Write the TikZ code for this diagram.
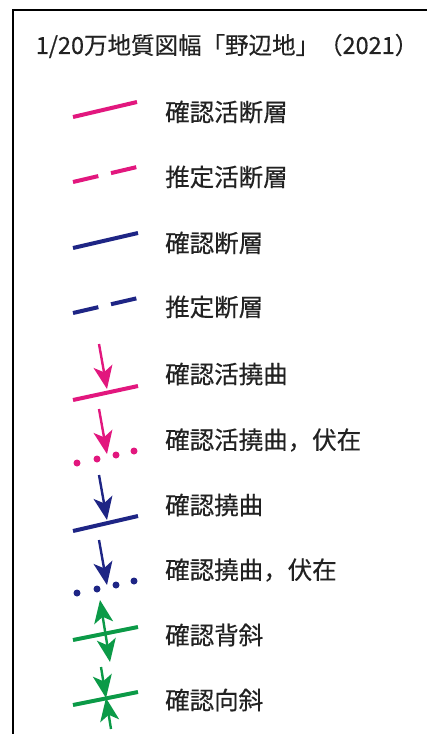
\documentclass[tikz,border=0pt]{standalone}
\usepackage{fontspec}
\setmainfont[FakeBold=0.4]{Noto Sans CJK JP}
\usetikzlibrary{arrows.meta}
\definecolor{actpink}{HTML}{E2177E}
\definecolor{navy}{HTML}{1E2585}
\definecolor{fgreen}{HTML}{0B9A47}
\definecolor{txt}{HTML}{222222}
\begin{document}
\begin{tikzpicture}[x=1pt,y=-1pt,
  lbl/.style={anchor=west,inner sep=0pt,text=txt,font=\fontsize{24.5}{25}\selectfont},
  fline/.style={line width=4pt},
  dashline/.style={line width=4pt,dash pattern=on 26pt off 13pt},
  shaft/.style={line width=2.4pt,-{Stealth[length=23pt,width=19pt,inset=6pt]}},
  dbl/.style={line width=2.4pt,{Stealth[length=23pt,width=19pt,inset=6pt]}-{Stealth[length=23pt,width=19pt,inset=6pt]}},
  dotm/.style={circle,fill,inner sep=0pt,minimum size=7pt}]
\useasboundingbox (0,0) rectangle (427,734);
\fill[white] (0,0) rectangle (427,734);
\coordinate (bl) at (13,734);
\coordinate (tl) at (13,10);
\coordinate (tr) at (427,10);
\draw[line width=1.6pt] (bl) -- (tl) -- (tr);
\node[inner sep=0pt,text=txt,font=\fontsize{23.5}{24}\selectfont] (title) at (227,46) {1/20万地質図幅「野辺地」（2021）};
% row 1
\coordinate (a1) at (73,117); \coordinate (b1) at (137,102);
\draw[actpink,fline] (a1) -- (b1);
\node[lbl] (t1) at (165,112) {確認活断層};
% row 2
\coordinate (a2) at (73,182); \coordinate (b2) at (137,167);
\draw[actpink,dashline] (a2) -- (b2);
\node[lbl] (t2) at (165,177) {推定活断層};
% row 3
\coordinate (a3) at (73,248); \coordinate (b3) at (138,233);
\draw[navy,fline] (a3) -- (b3);
\node[lbl] (t3) at (165,243) {確認断層};
% row 4
\coordinate (a4) at (73,313); \coordinate (b4) at (138,298);
\draw[navy,dashline] (a4) -- (b4);
\node[lbl] (t4) at (165,307) {推定断層};
% row 5
\coordinate (a5) at (73,400); \coordinate (b5) at (138,386);
\coordinate (s5) at (99,344); \coordinate (e5) at (107,389);
\draw[actpink,fline] (a5) -- (b5);
\draw[actpink,shaft] (s5) -- (e5);
\node[lbl] (t5) at (165,374) {確認活撓曲};
% row 6
\coordinate (s6) at (99,409); \coordinate (e6) at (107,454);
\draw[actpink,shaft] (s6) -- (e6);
\node[actpink,dotm] (d61) at (77,463) {};
\node[actpink,dotm] (d62) at (97,459) {};
\node[actpink,dotm] (d63) at (116,455) {};
\node[actpink,dotm] (d64) at (134,451) {};
\node[lbl] (t6) at (165,440) {確認活撓曲，伏在};
% row 7
\coordinate (a7) at (73,531); \coordinate (b7) at (138,516);
\coordinate (s7) at (99,475); \coordinate (e7) at (107,520);
\draw[navy,fline] (a7) -- (b7);
\draw[navy,shaft] (s7) -- (e7);
\node[lbl] (t7) at (165,505) {確認撓曲};
% row 8
\coordinate (s8) at (99,540); \coordinate (e8) at (107,585);
\draw[navy,shaft] (s8) -- (e8);
\node[navy,dotm] (d81) at (77,593) {};
\node[navy,dotm] (d82) at (97,589) {};
\node[navy,dotm] (d83) at (116,585) {};
\node[navy,dotm] (d84) at (134,581) {};
\node[lbl] (t8) at (165,570) {確認撓曲，伏在};
% row 9
\coordinate (a9) at (73,640); \coordinate (b9) at (138,627);
\coordinate (s9) at (100,600); \coordinate (e9) at (110,662);
\draw[fgreen,fline] (a9) -- (b9);
\draw[fgreen,dbl] (s9) -- (e9);
\node[lbl] (t9) at (165,635) {確認背斜};
% row 10
\coordinate (a10) at (73,705); \coordinate (b10) at (138,692);
\coordinate (s10) at (101,667); \coordinate (m10) at (106,698); \coordinate (e10) at (111,729);
\draw[fgreen,fline] (a10) -- (b10);
\draw[fgreen,shaft] (s10) -- (m10);
\draw[fgreen,shaft] (e10) -- (m10);
\node[lbl] (t10) at (165,700) {確認向斜};
\end{tikzpicture}
\end{document}
